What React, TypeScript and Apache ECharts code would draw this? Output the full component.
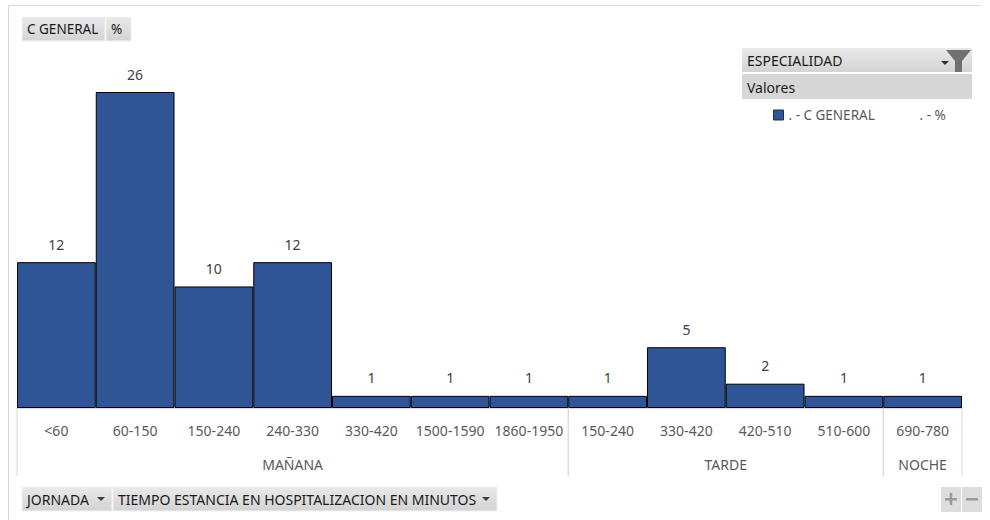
import React, { useEffect, useRef } from "react";
import * as echarts from "echarts";

// Stay-length buckets (minutes) and share of C GENERAL cases (%)
const categories = [
  "<60", "60-150", "150-240", "240-330", "330-420", "1500-1590", "1860-1950",
  "150-240", "330-420", "420-510", "510-600", "690-780",
];
const values = [12, 26, 10, 12, 1, 1, 1, 1, 5, 2, 1, 1];

// Shift groups (JORNADA) as inclusive category index ranges
const groupNames = ["MAÑANA", "TARDE", "NOCHE"];
const groupStart = [0, 7, 11];
const groupEnd = [6, 10, 11];

const FONT = '"Noto Sans", "DejaVu Sans", sans-serif';
const BAR = "#2F5597";
const GREY_TEXT = "#595959";

const btnFill = new echarts.graphic.LinearGradient(0, 0, 0, 1, [
  { offset: 0, color: "#E9E9E9" },
  { offset: 1, color: "#D3D3D3" },
]);

function button(x: number, y: number, w: number, h: number, label: string, arrow = false, size = 14) {
  const children: any[] = [
    { type: "rect", shape: { x, y, width: w, height: h }, style: { fill: btnFill, stroke: "#F2F2F2", lineWidth: 1 } },
    {
      type: "text",
      x: x + 5,
      y: y + h / 2,
      style: { text: label, fill: "#1A1A1A", fontSize: size, fontFamily: FONT, verticalAlign: "middle", align: "left" },
    },
  ];
  if (arrow) {
    children.push({
      type: "polygon",
      shape: { points: [[x + w - 15, y + h / 2 - 2], [x + w - 7, y + h / 2 - 2], [x + w - 11, y + h / 2 + 2]] },
      style: { fill: "#404040" },
    });
  }
  return { type: "group", children };
}

export default function App() {
  const ref = useRef<HTMLDivElement>(null);

  useEffect(() => {
    if (!ref.current) return;
    const chart = echarts.init(ref.current, undefined, { renderer: "svg" });

    chart.setOption({
      animation: false,
      backgroundColor: "#FFFFFF",
      grid: { left: 17, right: 28, top: 43.4, bottom: 112, containLabel: false },
      xAxis: {
        type: "category",
        data: categories,
        axisLine: { show: true, lineStyle: { color: "#D9D9D9", width: 1 } },
        axisTick: { show: false },
        axisLabel: { interval: 0, margin: 15, color: GREY_TEXT, fontSize: 14, fontFamily: FONT },
        splitLine: { show: false },
      },
      yAxis: { type: "value", min: 0, max: 30, show: false, splitLine: { show: false } },
      legend: {
        show: true,
        left: 773,
        top: 108,
        itemWidth: 10,
        itemHeight: 10,
        itemGap: 0,
        padding: 0,
        icon: "rect",
        itemStyle: { borderColor: "#1F2F4F", borderWidth: 1 },
        formatter: () => "{a|. - C GENERAL}{b|. - %}",
        textStyle: {
          color: GREY_TEXT,
          fontSize: 13.5,
          fontFamily: FONT,
          rich: {
            a: { width: 131, color: GREY_TEXT, fontSize: 13.5, fontFamily: FONT },
            b: { color: GREY_TEXT, fontSize: 13.5, fontFamily: FONT },
          },
        },
        data: ["C GENERAL"],
      },
      series: [
        {
          name: "C GENERAL",
          type: "bar",
          data: values,
          barCategoryGap: "0%",
          itemStyle: { color: BAR, borderColor: "#000000", borderWidth: 1 },
          label: { show: true, position: "top", distance: 11, color: "#404040", fontSize: 14, fontFamily: FONT },
        },
        {
          name: "JORNADA",
          type: "custom",
          clip: false,
          silent: true,
          encode: { x: 0, y: 2 },
          data: groupStart.map((s, i) => [s, groupEnd[i], 0]),
          renderItem: (params: any, api: any) => {
            const s = api.value(0);
            const e = api.value(1);
            const bw = api.size([1, 0])[0];
            const p0 = api.coord([s, 0]);
            const p1 = api.coord([e, 0]);
            const x0 = p0[0] - bw / 2;
            const x1 = p1[0] + bw / 2;
            const y = p0[1];
            const sep = { stroke: "#D9D9D9", lineWidth: 1 };
            return {
              type: "group",
              children: [
                { type: "line", shape: { x1: x0, y1: y, x2: x0, y2: y + 68 }, style: sep },
                { type: "line", shape: { x1: x1, y1: y, x2: x1, y2: y + 68 }, style: sep },
                {
                  type: "text",
                  x: (x0 + x1) / 2,
                  y: y + 56,
                  style: {
                    text: groupNames[params.dataIndex],
                    fill: GREY_TEXT,
                    fontSize: 14,
                    fontFamily: FONT,
                    align: "center",
                    verticalAlign: "middle",
                  },
                },
              ],
            };
          },
        },
      ],
      graphic: [
        // outer frame (top and left edges)
        { type: "line", shape: { x1: 8, y1: 5.5, x2: 981, y2: 5.5 }, style: { stroke: "#D9D9D9", lineWidth: 1 } },
        { type: "line", shape: { x1: 8.5, y1: 5, x2: 8.5, y2: 520 }, style: { stroke: "#D9D9D9", lineWidth: 1 } },
        // value field buttons
        button(22, 17, 83, 24, "C GENERAL", false, 13.5),
        button(106, 17, 25, 24, "%", false, 13.5),
        // axis field buttons
        button(22, 487, 90, 24, "JORNADA", true),
        button(113, 487, 384, 24, "TIEMPO ESTANCIA EN HOSPITALIZACION EN MINUTOS", true),
        // legend field header
        {
          type: "group",
          children: [
            { type: "rect", shape: { x: 742, y: 48, width: 230, height: 24 }, style: { fill: btnFill } },
            {
              type: "text",
              x: 747,
              y: 60,
              style: { text: "ESPECIALIDAD", fill: "#1A1A1A", fontSize: 14, fontFamily: FONT, verticalAlign: "middle" },
            },
            { type: "polygon", shape: { points: [[941, 61], [949, 61], [945, 65]] }, style: { fill: "#333333" } },
            {
              type: "polygon",
              shape: { points: [[946, 50], [971, 50], [962, 61], [962, 72], [955, 72], [955, 61]] },
              style: { fill: "#707070" },
            },
            { type: "rect", shape: { x: 742, y: 74, width: 230, height: 25 }, style: { fill: "#D6D6D6" } },
            {
              type: "text",
              x: 747,
              y: 87,
              style: { text: "Valores", fill: "#1A1A1A", fontSize: 14, fontFamily: FONT, verticalAlign: "middle" },
            },
          ],
        },
        // expand / collapse buttons
        {
          type: "group",
          children: [
            { type: "rect", shape: { x: 941, y: 487, width: 20, height: 25 }, style: { fill: "#DDDDDD" } },
            { type: "rect", shape: { x: 962, y: 487, width: 20, height: 25 }, style: { fill: "#DDDDDD" } },
            { type: "rect", shape: { x: 945, y: 498, width: 12, height: 2.5 }, style: { fill: "#9A9A9A" } },
            { type: "rect", shape: { x: 949.75, y: 493, width: 2.5, height: 12 }, style: { fill: "#9A9A9A" } },
            { type: "rect", shape: { x: 966, y: 498, width: 12, height: 2.5 }, style: { fill: "#9A9A9A" } },
          ],
        },
      ],
    });

    return () => chart.dispose();
  }, []);

  return (
    <div
      ref={ref}
      style={{ position: "absolute", left: 0, top: 0, width: 990, height: 520, background: "#fff" }}
    />
  );
}
